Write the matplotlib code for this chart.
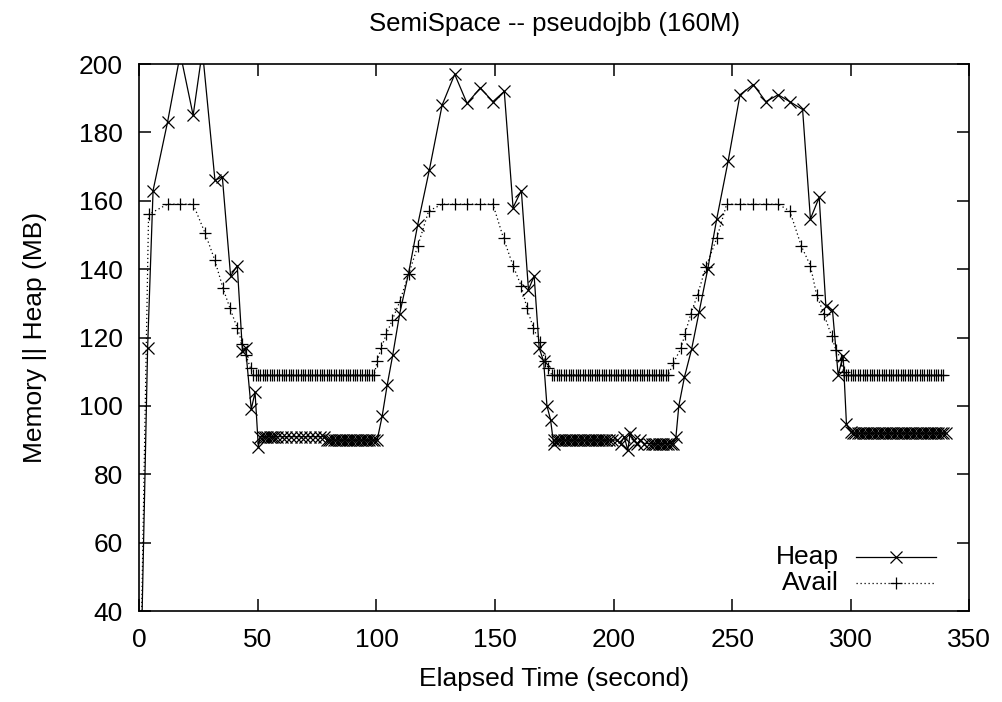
import matplotlib
matplotlib.use("Agg")
import matplotlib.pyplot as plt

plt.rcParams['font.family'] = ['Liberation Sans', 'DejaVu Sans']

# Heap (MB) over elapsed time (s)
heap_t = [0, 3.5, 5.8, 11.9, 17.3, 22.7, 26.6, 31.9, 35.0, 38.5, 41.3, 43.5, 44.8, 47.2, 48.8, 50.2,
          51, 52, 53, 54, 55, 56, 57, 58,
          60, 62, 64, 66, 68, 70, 72, 74, 76, 78,
          79, 80, 81, 82, 83, 84, 85, 86, 87, 88, 89, 90, 91, 92, 93, 94, 95, 96, 97, 98, 99,
          100.3, 102.4, 104.5, 106.9, 109.8, 113.6, 117.4, 122.3, 127.7, 133.0, 138.2, 143.8,
          149.1, 153.9, 157.6, 161.1, 164.1, 166.5, 168.6, 170.5, 171.9, 173.4, 174.7,
          175, 176, 177, 178, 179, 180, 181, 182, 183, 184, 185, 186, 187, 188, 189, 190,
          191, 192, 193, 194, 195, 196, 197, 198,
          199.2, 201.3, 203.0, 204.5, 206.0, 207.0, 208.5, 210.0, 211.2, 213.0, 215.0,
          216, 217, 218, 219, 220, 221, 222, 223, 224, 225,
          226.3, 227.5, 229.9, 232.9, 236.1, 239.7, 243.5, 248.3, 253.3, 258.9, 264.2,
          269.4, 274.3, 279.7, 283.0, 286.7, 289.5, 292.3, 294.7, 296.8, 298.2, 300.0,
          301, 302, 303, 304, 305, 306, 307, 308, 309, 310, 311, 312, 313, 314, 315, 316,
          317, 318, 319, 320, 321, 322, 323, 324, 325, 326, 327, 328, 329, 330, 331, 332,
          333, 334, 335, 336, 337, 338, 339, 340]
heap_mb = [0, 117, 163, 183, 203, 185, 204, 166, 167, 138, 141, 116, 117, 99, 104, 88,
           91, 91, 91, 91, 91, 91, 91, 91,
           91, 91, 91, 91, 91, 91, 91, 91, 91, 91,
           90, 90, 90, 90, 90, 90, 90, 90, 90, 90, 90, 90, 90, 90, 90, 90, 90, 90, 90, 90, 90,
           90, 97, 106, 115, 127, 139, 153, 169, 188, 197, 188.5, 193,
           189, 192, 158, 163, 134, 138, 117, 113, 100, 96, 89,
           90, 90, 90, 90, 90, 90, 90, 90, 90, 90, 90, 90, 90, 90, 90, 90,
           90, 90, 90, 90, 90, 90, 90, 90,
           90, 90, 89, 91, 87, 92, 90, 89, 90, 89, 89,
           89, 89, 89, 89, 89, 89, 89, 89, 89, 89,
           91, 100, 108.5, 116.6, 127.6, 140, 154.7, 171.6, 191, 194, 189,
           191, 189, 186.7, 154.7, 161, 129.3, 128, 109, 114.7, 94.6, 92.5,
           92, 92, 92, 92, 92, 92, 92, 92, 92, 92, 92, 92, 92, 92, 92, 92,
           92, 92, 92, 92, 92, 92, 92, 92, 92, 92, 92, 92, 92, 92, 92, 92,
           92, 92, 92, 92, 92, 92, 92, 92]

# Available memory (MB) over elapsed time (s)
avail_t = [0, 3.9, 11.9, 17.2, 22.7, 27.7, 31.8, 35.3, 38.2, 41.3, 43.5, 44.9, 46.9,
           48, 49, 50, 51, 52, 53, 54, 55, 56, 57, 58, 59, 60, 61, 62, 63, 64, 65, 66, 67,
           68, 69, 70, 71, 72, 73, 74, 75, 76, 77, 78, 79, 80, 81, 82, 83, 84, 85, 86, 87,
           88, 89, 90, 91, 92, 93, 94, 95, 96, 97, 98, 99,
           100.3, 102.0, 104.2, 106.6, 109.8, 113.6, 117.4, 122.0, 127.7, 133.0, 138.2, 143.8, 149.1,
           153.6, 157.6, 161.1, 163.5, 166.2, 168.8, 171.2, 172.5,
           174, 175, 176, 177, 178, 179, 180, 181, 182, 183, 184, 185, 186, 187, 188, 189,
           190, 191, 192, 193, 194, 195, 196, 197, 198, 199, 200, 201, 202, 203, 204, 205,
           206, 207, 208, 209, 210, 211, 212, 213, 214, 215, 216, 217, 218, 219, 220, 221,
           222, 223,
           225.2, 228.5, 230.1, 232.6, 235.4, 238.9, 243.5, 247.7, 253.3, 258.9, 264.2, 269.4,
           274.3, 279.2, 283.0, 285.6, 288.6, 291.9, 293.7, 296.1, 297.0,
           298, 299, 300, 301, 302, 303, 304, 305, 306, 307, 308, 309, 310, 311, 312, 313,
           314, 315, 316, 317, 318, 319, 320, 321, 322, 323, 324, 325, 326, 327, 328, 329,
           330, 331, 332, 333, 334, 335, 336, 337, 338, 339]
avail_mb = [0, 156, 159, 159, 159, 150.6, 142.7, 134.4, 128.6, 122.8, 118, 115, 111,
            109, 109, 109, 109, 109, 109, 109, 109, 109, 109, 109, 109, 109, 109, 109, 109, 109, 109,
            109, 109, 109, 109, 109, 109, 109, 109, 109, 109, 109, 109, 109, 109, 109, 109, 109, 109,
            109, 109, 109, 109, 109, 109, 109, 109, 109, 109, 109, 109, 109, 109, 109, 109,
            113, 117, 121, 125, 130.5, 138.6, 146.7, 157, 159, 159, 159, 159, 159,
            149, 141, 135, 128.5, 122.7, 118.8, 113, 111,
            109, 109, 109, 109, 109, 109, 109, 109, 109, 109, 109, 109, 109, 109, 109, 109,
            109, 109, 109, 109, 109, 109, 109, 109, 109, 109, 109, 109, 109, 109, 109, 109,
            109, 109, 109, 109, 109, 109, 109, 109, 109, 109, 109, 109, 109, 109, 109, 109,
            109, 109,
            112.5, 117, 121, 127, 132.5, 140.6, 149, 159, 159, 159, 159, 159,
            157, 146.7, 141, 132.5, 127, 120.5, 116.4, 113.5, 110,
            109, 109, 109, 109, 109, 109, 109, 109, 109, 109, 109, 109, 109, 109, 109, 109,
            109, 109, 109, 109, 109, 109, 109, 109, 109, 109, 109, 109, 109, 109, 109, 109,
            109, 109, 109, 109, 109, 109, 109, 109, 109, 109]

x_ticks = [0, 50, 100, 150, 200, 250, 300, 350]
y_ticks = [40, 60, 80, 100, 120, 140, 160, 180, 200]

fig = plt.figure(figsize=(10.03, 7.02), dpi=100)
ax = fig.add_axes([0.1389, 0.1296, 0.8275, 0.7792])

heap_style = dict(color="black", lw=0.9, marker="x", markersize=8, markeredgewidth=0.9)
avail_style = dict(color="black", lw=0.9, linestyle=(0, (1, 2.2)), marker="+",
                   markersize=8, markeredgewidth=0.9)

ax.plot(heap_t, heap_mb, **heap_style)
ax.plot(avail_t, avail_mb, **avail_style)

ax.set_xlim(0, 350)
ax.set_ylim(40, 200)
ax.set_xticks(x_ticks)
ax.set_yticks(y_ticks)
ax.tick_params(direction="in", length=8.5, width=1.1, labelsize=19,
               top=True, right=True, pad=12)
for s in ax.spines.values():
    s.set_linewidth(1.2)

ax.set_xlabel("Elapsed Time (second)", fontsize=19, labelpad=11)
ax.set_ylabel("Memory || Heap (MB)", fontsize=19, labelpad=23)
ax.set_title("SemiSpace -- pseudojbb (160M)", fontsize=18.5, pad=24)

# legend, gnuplot style: label on the left, sample on the right
for label, style, y in [("Heap", heap_style, 0.0993), ("Avail", avail_style, 0.0506)]:
    ax.text(0.8434, y, label, transform=ax.transAxes, ha="right", va="center", fontsize=19)
    st = dict(style)
    st.pop("marker")
    ax.plot([0.8635, 0.9598], [y, y], transform=ax.transAxes, clip_on=False, **st)
    ax.plot([0.9117], [y], transform=ax.transAxes, clip_on=False, color="black",
            linestyle="none", marker=style["marker"], markersize=8, markeredgewidth=0.9)

fig.savefig("out.png", dpi=100)
